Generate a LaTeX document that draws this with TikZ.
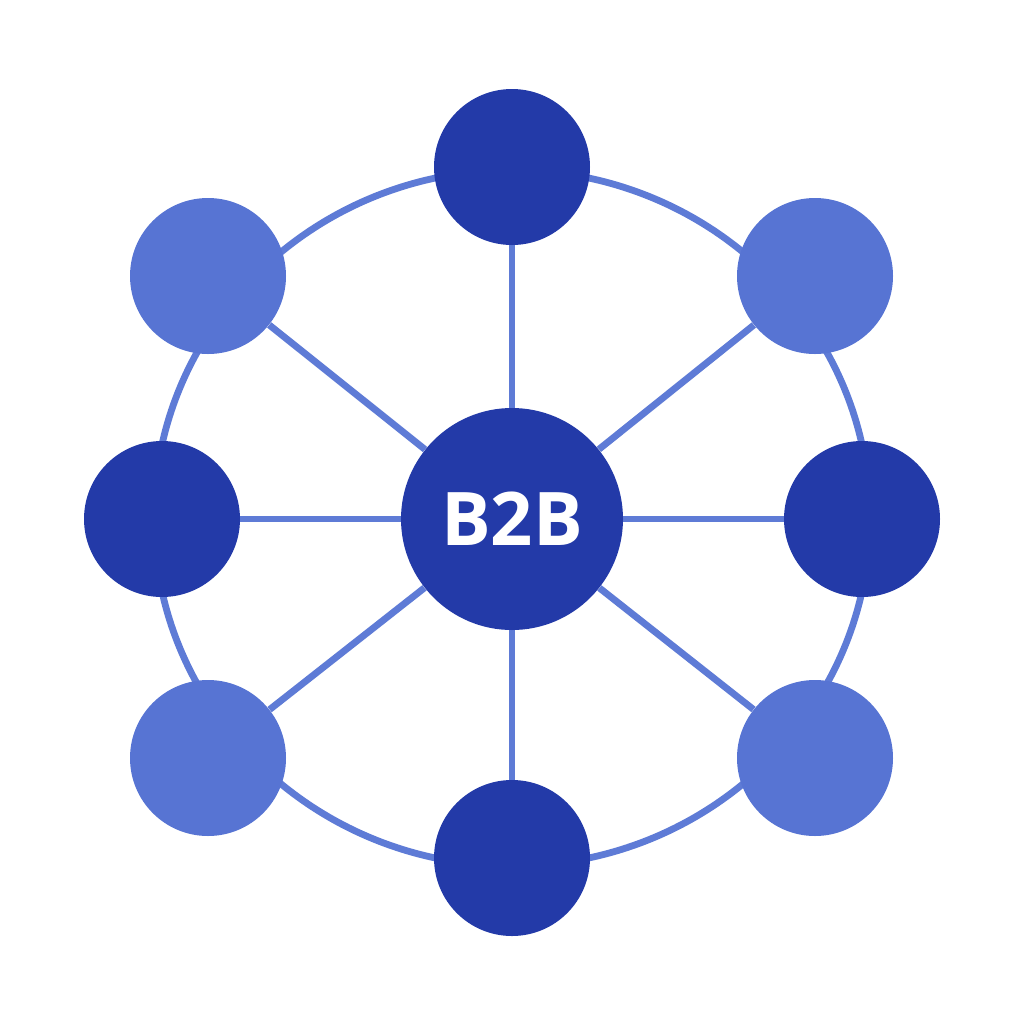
\documentclass[tikz,border=0pt]{standalone}
\usepackage{fontspec}
\setmainfont{Open Sans}
\pgfdeclarelayer{bg}
\pgfsetlayers{bg,main}
\definecolor{darkblue}{HTML}{233AA8}
\definecolor{lightblue}{HTML}{5774D3}
\definecolor{linkblue}{HTML}{5E7BD6}
\tikzset{
  hub/.style={circle, fill=darkblue, minimum size=111pt, inner sep=0pt, text=white, font=\fontsize{37}{40}\selectfont\bfseries},
  darknode/.style={circle, fill=darkblue, minimum size=78pt, inner sep=0pt},
  lightnode/.style={circle, fill=lightblue, minimum size=78pt, inner sep=0pt},
  spoke/.style={draw=linkblue, line width=3.4pt},
  ring/.style={draw=linkblue, line width=3.4pt}
}
\begin{document}
\begin{tikzpicture}[x=0.5pt, y=-0.5pt]
\useasboundingbox (0,0) rectangle (1024,1024);
\node[hub] (c) at (512,519) {B2B};
\node[darknode] (t) at (512,167) {};
\node[darknode] (b) at (512,858) {};
\node[darknode] (l) at (162,519) {};
\node[darknode] (r) at (862,519) {};
\node[lightnode] (tl) at (208,276) {};
\node[lightnode] (tr) at (815,276) {};
\node[lightnode] (bl) at (208,758) {};
\node[lightnode] (br) at (815,758) {};
\begin{pgfonlayer}{bg}
\fill[white] (0,0) rectangle (1024,1024);
\draw[ring] (512,518) ellipse [x radius=179pt, y radius=174pt];
\foreach \n in {t,b,l,r,tl,tr,bl,br} {\draw[spoke] (c) -- (\n);}
\end{pgfonlayer}
\end{tikzpicture}
\end{document}
